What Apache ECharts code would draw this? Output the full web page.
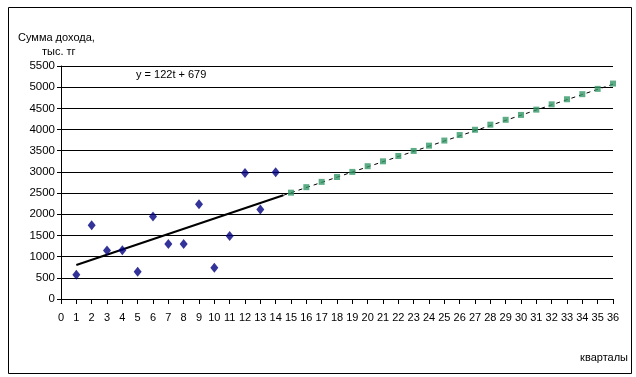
<!DOCTYPE html>
<html><head><meta charset="utf-8">
<script src="https://cdn.jsdelivr.net/npm/echarts@6/dist/echarts.min.js"></script>
<style>html,body{margin:0;padding:0;background:#fff}#c{width:636px;height:377px}</style>
</head><body><div id="c"></div>
<script>
// Actual quarterly income (t = 1..14)
const actualT = [1,2,3,4,5,6,7,8,9,10,11,12,13,14];
const actualY = [575,1740,1145,1150,645,1950,1300,1300,2235,740,1490,2975,2115,2990];
// Forecast points (t = 15..36)
const forecastT = [15,16,17,18,19,20,21,22,23,24,25,26,27,28,29,30,31,32,33,34,35,36];
const forecastY = [2510,2640,2765,2880,3000,3135,3250,3375,3495,3620,3740,3870,3995,4115,4230,4345,4470,4595,4715,4835,4960,5085];
// Trend line y = 122t + 679 (solid part and dashed extension)
const trendT = [1,14.5];
const trendY = [801,2448];
const extT = [14.5,36];
const extY = [2448,5071];
// Axis ticks
const xMin = 0, xMax = 36, xStep = 1;
const yMin = 0, yMax = 5500, yStep = 500;

const FONT = 'Liberation Sans, Arial, sans-serif';
const zip = (a,b) => a.map((v,i)=>[v,b[i]]);

const chart = echarts.init(document.getElementById('c'), null, {renderer:'canvas'});
chart.setOption({
  animation:false,
  backgroundColor:'#fff',
  grid:{left:61,right:23,top:66,bottom:78},
  xAxis:{type:'value',min:xMin,max:xMax,interval:xStep,
    axisLine:{lineStyle:{color:'#000',width:1}},
    axisTick:{show:true,inside:false,length:5,lineStyle:{color:'#000'}},
    axisLabel:{color:'#000',fontFamily:FONT,fontSize:11,margin:13,showMinLabel:true,showMaxLabel:true,hideOverlap:false,
      formatter:v=>String(v)},
    splitLine:{show:false}},
  yAxis:{type:'value',min:yMin,max:yMax,interval:yStep,
    axisLine:{show:true,lineStyle:{color:'#000',width:1}},
    axisTick:{show:true,inside:false,length:4,lineStyle:{color:'#000'}},
    axisLabel:{color:'#000',fontFamily:FONT,fontSize:11.5,margin:6,formatter:v=>String(v)},
    splitLine:{show:true,lineStyle:{color:'#000',width:1}}},
  series:[
    {type:'line',data:zip(trendT,trendY),symbol:'none',lineStyle:{color:'#000',width:2},z:3},
    {type:'line',data:zip(extT,extY),symbol:'none',lineStyle:{color:'#000',width:1,type:[4,4]},z:3},
    {type:'scatter',data:zip(actualT,actualY),symbol:'diamond',symbolSize:[8,10],itemStyle:{color:'#000080'},z:4},
    {type:'scatter',data:zip(forecastT,forecastY),symbol:'rect',symbolSize:6,itemStyle:{color:'#339966'},z:4}
  ],
  graphic:[
    {type:'rect',left:6,top:5,shape:{width:623,height:366},style:{fill:null,stroke:'#000',lineWidth:1},silent:true},
    {type:'text',left:18,top:32,style:{text:'Сумма дохода,',font:'11px '+FONT,fill:'#000'}},
    {type:'text',left:42,top:46,style:{text:'тыс. тг',font:'11px '+FONT,fill:'#000'}},
    {type:'text',left:136,top:69,style:{text:'y = 122t + 679',font:'11px '+FONT,fill:'#000'}},
    {type:'text',right:8,top:352,style:{text:'кварталы',font:'11px '+FONT,fill:'#000'}}
  ]
});
</script></body></html>
